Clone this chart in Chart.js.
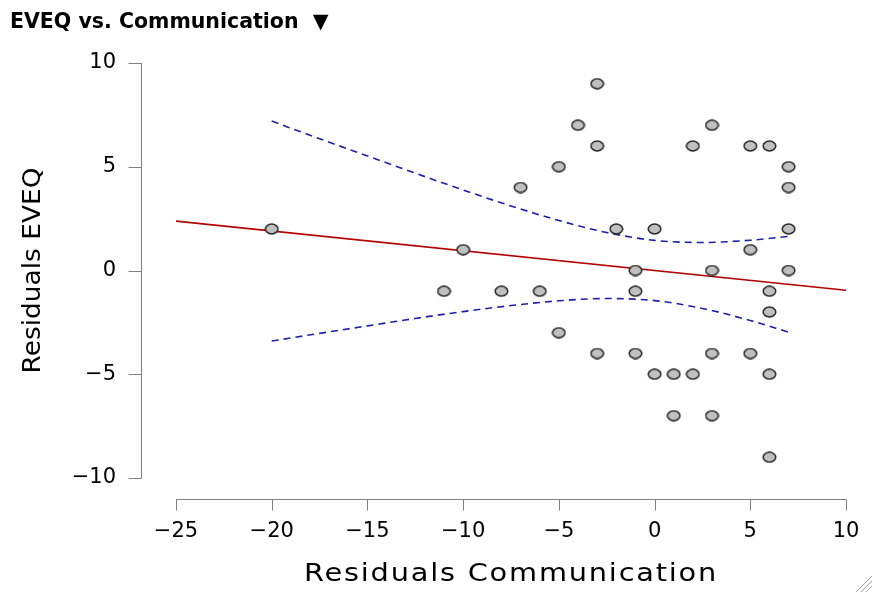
<!DOCTYPE html>
<html>
<head>
<meta charset="utf-8">
<title>EVEQ vs. Communication</title>
<script src="https://cdn.jsdelivr.net/npm/chart.js@4.4.1/dist/chart.umd.min.js"></script>
<style>
  html, body { margin: 0; padding: 0; background: #fff; }
  #wrap { position: relative; width: 872px; height: 592px; }
</style>
</head>
<body>
<div id="wrap"><canvas id="myChart"></canvas></div>
<script>
// residual pairs
var commX = [-20, -11, -10, -8, -7, -6, -5, -5, -4, -3, -3, -3, -2, -1, -1, -1, 0, 0, 1, 1,
             2, 2, 3, 3, 3, 3, 5, 5, 5, 6, 6, 6, 6, 6, 7, 7, 7, 7];
var eveqY = [2, -1, 1, -1, 4, -1, 5, -3, 7, 9, 6, -4, 2, 0, -1, -4, 2, -5, -5, -7,
             6, -5, 7, 0, -4, -7, 6, 1, -4, 6, -1, -2, -5, -9, 5, 4, 2, 0];

// fitted line and its confidence band
var fitX = [-25, 10];
var fitY = [2.38, -0.95];
var bandX = [-20, -17.5, -15, -12.5, -10, -7.5, -5, -2.5, 0, 2.5, 5, 7];
var bandUpper = [7.20, 6.35, 5.52, 4.69, 3.88, 3.11, 2.41, 1.83, 1.45, 1.35, 1.46, 1.64];
var bandLower = [-3.40, -3.03, -2.67, -2.31, -1.98, -1.69, -1.46, -1.35, -1.45, -1.83, -2.41, -2.97];

var xTicks = [-25, -20, -15, -10, -5, 0, 5, 10];
var yTicks = [-10, -5, 0, 5, 10];

function pairs(xs, ys) {
  return xs.map(function (x, i) { return { x: x, y: ys[i] }; });
}
function fmt(v) {
  return String(v).replace('-', '\u2212');
}
function noPad(s) {
  s.paddingLeft = s.paddingRight = s.paddingTop = s.paddingBottom = 0;
}

// grey oval marker
var dot = document.createElement('canvas');
dot.width = 15; dot.height = 12;
(function () {
  var c = dot.getContext('2d');
  c.beginPath();
  c.ellipse(7.5, 6, 6.3, 4.9, 0, 0, Math.PI * 2);
  c.fillStyle = '#c0c0c0';
  c.fill();
  c.lineWidth = 1.5;
  c.strokeStyle = '#262626';
  c.stroke();
})();

// detached axis lines + stretched axis titles
var axisLines = {
  id: 'axisLines',
  beforeDraw: function (chart) {
    var sx = chart.scales.x, sy = chart.scales.y;
    if (sx && !sx._wide) {
      var ox = sx.drawTitle;
      sx.drawTitle = function () {
        var c = this.ctx, cx = (this.left + this.right) / 2;
        c.save();
        c.translate(cx, 0); c.scale(1.2, 1); c.translate(-cx, 0);
        c.letterSpacing = '1.5px';
        ox.call(this);
        c.restore();
      };
      sx._wide = true;
    }
    if (sy && !sy._wide) {
      var oy = sy.drawTitle;
      sy.drawTitle = function () {
        var c = this.ctx, cy = (this.top + this.bottom) / 2;
        c.save();
        c.translate(0, cy); c.scale(1, 1.1); c.translate(0, -cy);
        oy.call(this);
        c.restore();
      };
      sy._wide = true;
    }
  },
  afterDraw: function (chart) {
    var ctx = chart.ctx, xs = chart.scales.x, ys = chart.scales.y;
    var ax = chart.chartArea.left - 34.5;
    var ay = chart.chartArea.bottom + 21.5;
    ctx.save();
    ctx.strokeStyle = '#808080';
    ctx.lineWidth = 1;
    ctx.beginPath();
    ctx.moveTo(ax, ys.getPixelForValue(yTicks[yTicks.length - 1]));
    ctx.lineTo(ax, ys.getPixelForValue(yTicks[0]));
    yTicks.forEach(function (v) {
      var p = Math.round(ys.getPixelForValue(v)) + 0.5;
      ctx.moveTo(ax, p);
      ctx.lineTo(ax - 13, p);
    });
    ctx.moveTo(xs.getPixelForValue(xTicks[0]), ay);
    ctx.lineTo(xs.getPixelForValue(xTicks[xTicks.length - 1]), ay);
    xTicks.forEach(function (v) {
      var p = Math.round(xs.getPixelForValue(v)) + 0.5;
      ctx.moveTo(p, ay);
      ctx.lineTo(p, ay + 11);
    });
    ctx.stroke();
    // resize grip
    ctx.strokeStyle = '#a8a8a8';
    ctx.beginPath();
    for (var k = 0; k < 3; k++) {
      ctx.moveTo(872, 576 + 5 * k);
      ctx.lineTo(856 + 5 * k, 592);
    }
    ctx.stroke();
    ctx.restore();
  }
};

var ctx = document.getElementById('myChart');
new Chart(ctx, {
  type: 'scatter',
  data: {
    datasets: [{
      label: 'Residuals',
      data: pairs(commX, eveqY),
      pointStyle: dot,
      pointRadius: 6,
      pointHoverRadius: 6,
      clip: false
    }, {
      type: 'line',
      label: 'Fit',
      data: pairs(fitX, fitY),
      borderColor: '#b50000',
      borderWidth: 1.6,
      pointRadius: 0,
      fill: false
    }, {
      type: 'line',
      label: 'Upper',
      data: pairs(bandX, bandUpper),
      borderColor: '#1f1faa',
      borderWidth: 1.6,
      borderDash: [7, 5],
      pointRadius: 0,
      cubicInterpolationMode: 'monotone',
      fill: false
    }, {
      type: 'line',
      label: 'Lower',
      data: pairs(bandX, bandLower),
      borderColor: '#1f1faa',
      borderWidth: 1.6,
      borderDash: [7, 5],
      pointRadius: 0,
      cubicInterpolationMode: 'monotone',
      fill: false
    }]
  },
  options: {
    responsive: true,
    maintainAspectRatio: false,
    animation: false,
    layout: { padding: { left: 10, right: 26, top: 0, bottom: 0 } },
    plugins: {
      legend: { display: false },
      tooltip: { enabled: false },
      title: {
        display: true,
        text: 'EVEQ vs. Communication  \u25BC',
        align: 'start',
        color: '#000',
        font: { family: 'DejaVu Sans', size: 20.5, weight: 'bold' },
        padding: { top: 10, bottom: 28.4 }
      }
    },
    scales: {
      x: {
        type: 'linear',
        position: 'bottom',
        min: -25,
        max: 10,
        grid: { display: false, drawTicks: false },
        border: { display: false },
        afterBuildTicks: function (s) { s.ticks = xTicks.map(function (v) { return { value: v }; }); },
        afterFit: function (s) { s.height = 114; noPad(s); },
        ticks: {
          color: '#000',
          padding: 41,
          maxRotation: 0,
          autoSkip: false,
          font: { family: 'DejaVu Sans', size: 21 },
          callback: function (v) { return fmt(v); }
        },
        title: {
          display: true,
          text: 'Residuals Communication',
          color: '#000',
          font: { family: 'DejaVu Sans', size: 24 },
          padding: { top: 0, bottom: 3 }
        }
      },
      y: {
        type: 'linear',
        min: -10,
        max: 10,
        grid: { display: false, drawTicks: false },
        border: { display: false },
        afterBuildTicks: function (s) { s.ticks = yTicks.map(function (v) { return { value: v }; }); },
        afterFit: function (s) { s.width = 166; noPad(s); },
        ticks: {
          color: '#000',
          padding: 60,
          font: { family: 'DejaVu Sans', size: 21 },
          callback: function (v) { return fmt(v); }
        },
        title: {
          display: true,
          text: 'Residuals EVEQ',
          color: '#000',
          font: { family: 'DejaVu Sans', size: 24 },
          padding: { top: 9, bottom: 0 }
        }
      }
    }
  },
  plugins: [axisLines]
});
</script>
</body>
</html>
